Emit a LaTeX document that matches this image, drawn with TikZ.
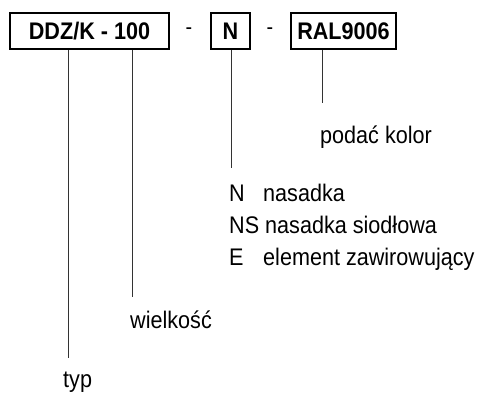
\documentclass[tikz,border=0pt]{standalone}
\usepackage{fontspec}
\setmainfont{Liberation Sans}[FakeStretch=0.9]
\usetikzlibrary{positioning,calc}

\tikzset{
  codebox/.style={draw, line width=1.6pt, inner sep=0pt, minimum height=36pt,
    font=\fontsize{24}{28}\selectfont\bfseries},
  sep/.style={inner sep=0pt, font=\fontsize{22}{26}\selectfont},
  label/.style={inner sep=0pt, anchor=base west, font=\fontsize{24}{28}\selectfont},
  lead/.style={line width=0.7pt, black!80}
}

\begin{document}
\begin{tikzpicture}[x=1pt, y=-1pt]
  \useasboundingbox (0,0) rectangle (478,396);

  % code boxes
  \node[codebox, minimum width=159pt] (ddz) at (89.5,31) {DDZ/K - 100};
  \node[codebox, minimum width=39pt] (nas) at (230.5,31) {N};
  \node[codebox, minimum width=105pt] (ral) at (343.5,31) {RAL9006};
  \node[sep] (d1) at (189,31) {-};
  \node[sep] (d2) at (270,31) {-};

  % descriptions
  \node[label] (kolor) at (320,143) {podać kolor};
  \node[label, align=left, font=\fontsize{24}{32}\selectfont] (warianty) at (229,265)
    {\makebox[34pt][l]{N}nasadka\\
     NS nasadka siodłowa\\
     \makebox[34pt][l]{E}element zawirowujący};
  \node[label] (wielkosc) at (130,328) {wielkość};
  \node[label] (typ) at (63,387) {typ};

  % lead lines
  \coordinate (kolor end) at (322,103);
  \coordinate (war end) at (231,168);
  \coordinate (wiel end) at (132,297);
  \coordinate (typ end) at (68,358);
  \draw[lead] (ral.south -| kolor end) -- (kolor end);
  \draw[lead] (nas.south -| war end) -- (war end);
  \draw[lead] (ddz.south -| wiel end) -- (wiel end);
  \draw[lead] (ddz.south -| typ end) -- (typ end);

\end{tikzpicture}
\end{document}
